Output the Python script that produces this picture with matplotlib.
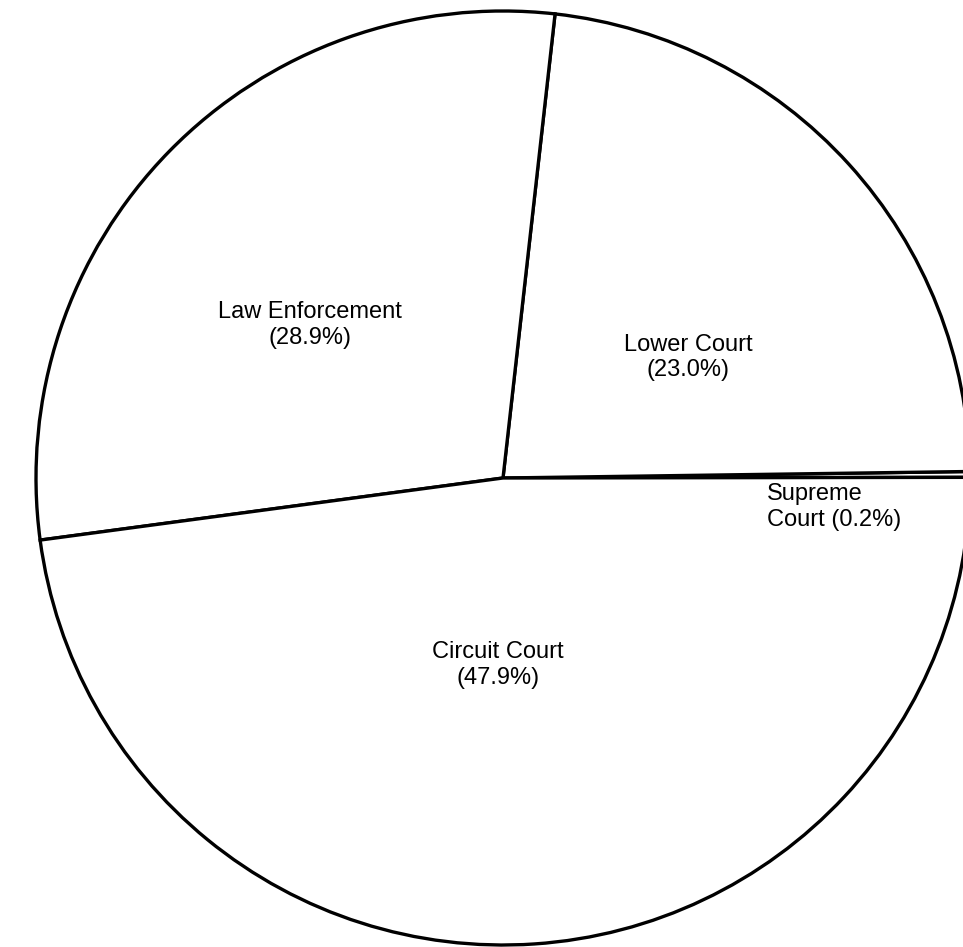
import numpy as np
import matplotlib.pyplot as plt

labels = ['Supreme\nCourt', 'Lower Court', 'Law Enforcement', 'Circuit Court']
shares = [0.2, 23.0, 28.9, 47.9]

# label placement as (angle in degrees, distance from centre in px)
label_pos = [(-5.0, 332), (33.0, 221), (141.6, 246), (268.5, 187)]

W, H = 963, 947
cx, cy, r = 503, H - 478, 467

plt.rcParams['font.family'] = ['Liberation Sans', 'DejaVu Sans']

fig = plt.figure(figsize=(W / 100, H / 100), dpi=100)
ax = fig.add_axes([0, 0, 1, 1])

ax.pie(shares, center=(cx, cy), radius=r, startangle=0.08, counterclock=True,
       colors=['white'] * len(shares),
       wedgeprops=dict(edgecolor='black', linewidth=2.4))

for lab, val, (ang, dist) in zip(labels, shares, label_pos):
    x = cx + dist * np.cos(np.radians(ang))
    y = cy + dist * np.sin(np.radians(ang))
    if lab.startswith('Supreme'):
        txt = 'Supreme\nCourt (%.1f%%)' % val
        align = 'left'
    else:
        txt = '%s\n(%.1f%%)' % (lab, val)
        align = 'center'
    ax.text(x, y, txt, ha='center', va='center', fontsize=17,
            linespacing=1.2, multialignment=align)

ax.set_xlim(0, W)
ax.set_ylim(0, H)
ax.set_aspect('auto')
ax.axis('off')

fig.savefig('out.png', dpi=100, facecolor='white')
